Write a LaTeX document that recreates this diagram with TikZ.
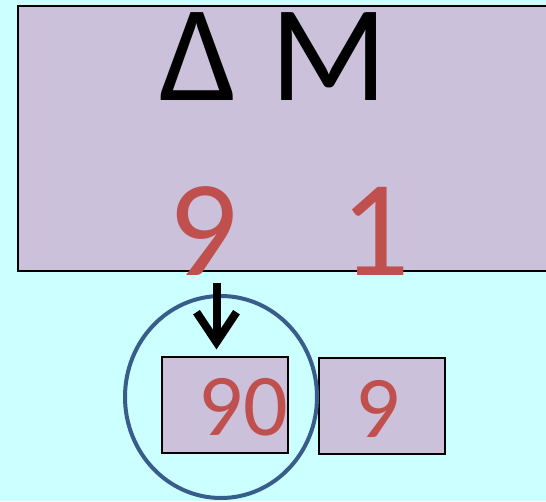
\documentclass[tikz,border=0pt]{standalone}
\usepackage{fontspec}
\setmainfont{Carlito}
\usetikzlibrary{arrows.meta,positioning}
\definecolor{cbg}{HTML}{CCFFFF}
\definecolor{cbox}{HTML}{CCC1DA}
\definecolor{cred}{HTML}{C0504D}
\definecolor{cring}{HTML}{385D8A}
\tikzset{
  pbox/.style={draw=black, fill=cbox, line width=1.2pt},
  bigtxt/.style={font=\fontsize{137}{137}\selectfont, inner sep=0pt, anchor=base,
                 text height=90pt, text depth=0pt},
  smalltxt/.style={font=\fontsize{88}{88}\selectfont, text=cred, inner sep=0pt, anchor=base},
  darrow/.style={line width=8pt, -{Straight Barb[length=30pt,width=40pt]}},
  ring/.style={draw=cring, line width=4pt},
}
\begin{document}
\begin{tikzpicture}[x=1pt,y=-1pt]
  \fill[cbg] (0,0) rectangle (546,501);
  \useasboundingbox (0,0) rectangle (546,501);
  % top panel
  \draw[pbox] (18,6) rectangle (560,271);
  \node[bigtxt] (dl) at (198,100) {Δ};
  \node[bigtxt] (mm) at (329,100) {M};
  \node[bigtxt, text=cred] (d9) at (203,275) {9};
  \node[bigtxt, text=cred] (d1) at (375,275) {1};
  % lower boxes
  \node[pbox, minimum width=126pt, minimum height=96pt, inner sep=0pt] (b90) at (225,405) {};
  \node[pbox, minimum width=126pt, minimum height=96pt, inner sep=0pt] (b9) at (382,406) {};
  \node[smalltxt] (t90) at (243,435) {90};
  \node[smalltxt] (t9) at (378,437) {9};
  \draw[ring] (221,397) ellipse [x radius=96, y radius=101];
  \coordinate (a0) at (216.5,283);
  \draw[darrow, shorten >=7pt] (a0) -- (a0 |- b90.north);
\end{tikzpicture}
\end{document}
